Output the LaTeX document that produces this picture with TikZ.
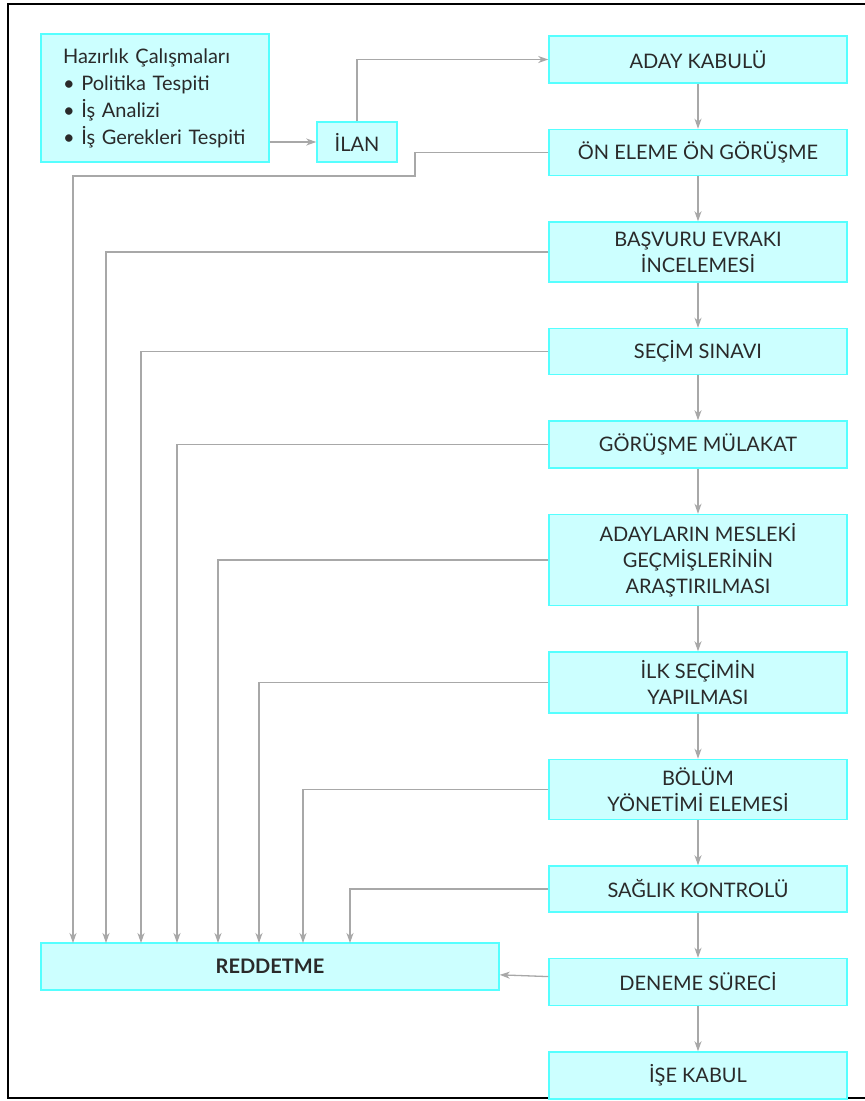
\documentclass[tikz,border=0pt]{standalone}
\usepackage{fontspec}
\setmainfont{Lato}
\usetikzlibrary{positioning,arrows.meta}
\definecolor{boxfill}{HTML}{CCFFFF}
\definecolor{boxline}{HTML}{55FFFF}
\definecolor{linegray}{HTML}{A8A8A8}
\definecolor{textgray}{HTML}{2A2A2A}
\tikzset{
  box/.style={draw=boxline, fill=boxfill, line width=1.5pt, minimum width=298pt, minimum height=46pt, inner sep=3pt, align=center, text=textgray, font=\fontsize{20}{26}\selectfont},
  link/.style={draw=linegray, line width=1.3pt},
  arr/.style={link, -{Stealth[length=10pt,width=7pt,inset=3pt]}}
}
\begin{document}
\begin{tikzpicture}[x=1pt,y=1pt,node distance=45pt]
\useasboundingbox (0,0) rectangle (865,-1101);
\draw[line width=1.8pt] (870,-4) -- (8,-4) -- (8,-1098) -- (870,-1098);

\node[box, text width=184pt, inner xsep=22pt, align=left, minimum width=228pt, minimum height=128pt, font=\fontsize{20}{27}\selectfont] (prep) at (155,-98) {Hazırlık Çalışmaları\\• Politika Tespiti\\• İş Analizi\\• İş Gerekleri Tespiti};
\node[box, minimum width=80pt, minimum height=40pt] (ilan) at (357,-142) {İLAN};
\node[box, minimum height=47pt] (aday) at (698,-59.5) {ADAY KABULÜ};
\node[box, below=of aday] (onele) {ÖN ELEME ÖN GÖRÜŞME};
\node[box, below=of onele, minimum height=60pt] (basvuru) {BAŞVURU EVRAKI\\İNCELEMESİ};
\node[box, below=of basvuru] (secim) {SEÇİM SINAVI};
\node[box, below=of secim, minimum height=47pt] (gorusme) {GÖRÜŞME MÜLAKAT};
\node[box, below=of gorusme, minimum height=91pt] (gecmis) {ADAYLARIN MESLEKİ\\GEÇMİŞLERİNİN\\ARAŞTIRILMASI};
\node[box, below=of gecmis, minimum height=61pt] (ilk) {İLK SEÇİMİN\\YAPILMASI};
\node[box, below=of ilk, minimum height=60pt] (bolum) {BÖLÜM\\YÖNETİMİ ELEMESİ};
\node[box, below=of bolum] (saglik) {SAĞLIK KONTROLÜ};
\node[box, below=of saglik, minimum height=47pt] (deneme) {DENEME SÜRECİ};
\node[box, below=of deneme, minimum height=47pt] (kabul) {İŞE KABUL};
\node[box, minimum width=458pt, minimum height=47pt, font=\fontsize{20}{26}\selectfont\bfseries] (red) at (270,-966.5) {REDDETME};

\coordinate (bend) at (415,-176);
\coordinate (r1) at (73,-943);
\coordinate (r2) at (106,-943);
\coordinate (r3) at (141,-943);
\coordinate (r4) at (177,-943);
\coordinate (r5) at (218,-943);
\coordinate (r6) at (259,-943);
\coordinate (r7) at (303,-943);
\coordinate (r8) at (350,-943);

\draw[arr] (prep.east |- ilan.west) -- (ilan.west);
\draw[arr] (ilan.north) |- (aday.west);
\draw[arr] (aday) -- (onele);
\draw[arr] (onele) -- (basvuru);
\draw[arr] (basvuru) -- (secim);
\draw[arr] (secim) -- (gorusme);
\draw[arr] (gorusme) -- (gecmis);
\draw[arr] (gecmis) -- (ilk);
\draw[arr] (ilk) -- (bolum);
\draw[arr] (bolum) -- (saglik);
\draw[arr] (saglik) -- (deneme);
\draw[arr] (deneme) -- (kabul);
\draw[arr] (deneme) -- (red);
\draw[arr] (onele.west) -| (bend) -| (r1);
\draw[arr] (basvuru.west) -| (r2);
\draw[arr] (secim.west) -| (r3);
\draw[arr] (gorusme.west) -| (r4);
\draw[arr] (gecmis.west) -| (r5);
\draw[arr] (ilk.west) -| (r6);
\draw[arr] (bolum.west) -| (r7);
\draw[arr] (saglik.west) -| (r8);
\end{tikzpicture}
\end{document}
